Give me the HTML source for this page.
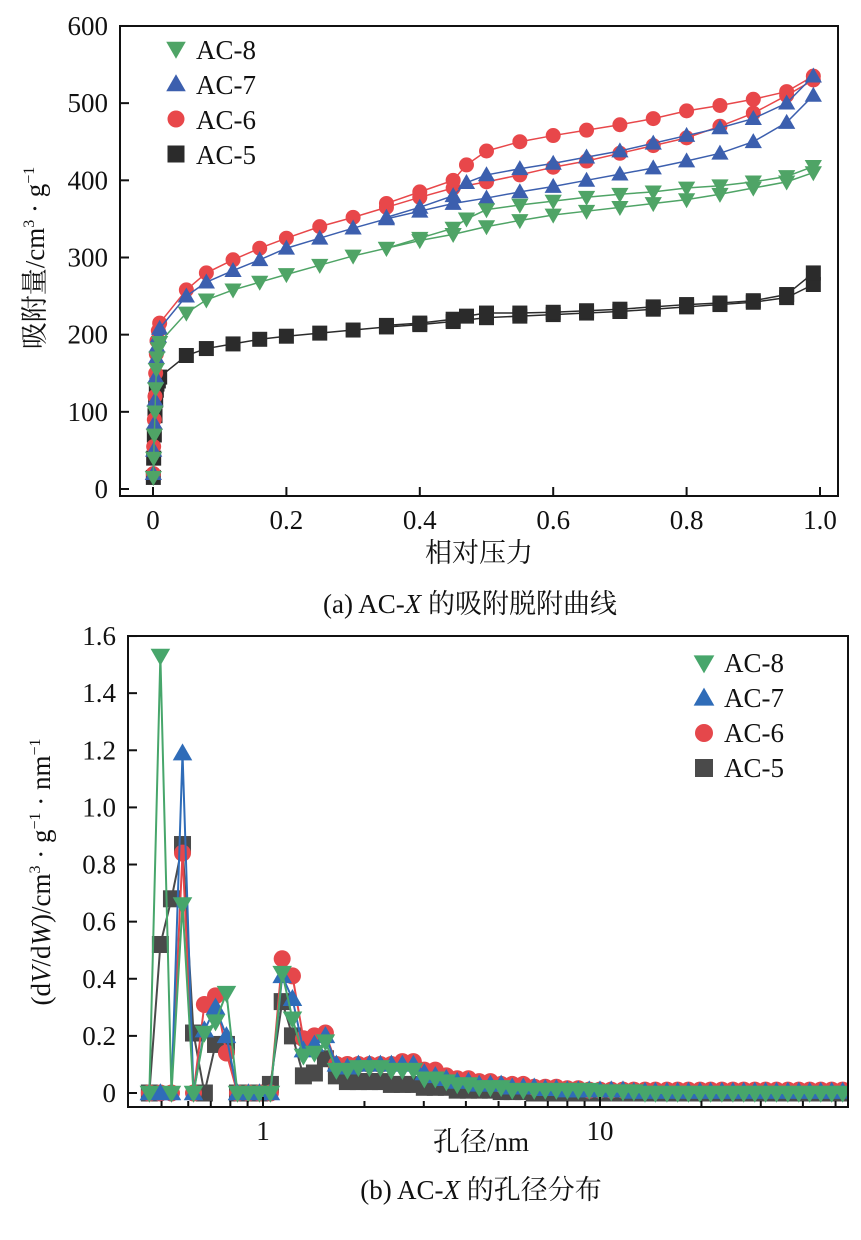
<!DOCTYPE html>
<html><head><meta charset="utf-8"><style>
html,body{margin:0;padding:0;background:#fff}
svg{display:block}
text{font-family:"Liberation Serif","Noto Serif CJK SC","Noto Sans CJK SC",serif;fill:#111}
</style></head><body>
<svg id="fig" width="861" height="1240" viewBox="0 0 861 1240" xmlns="http://www.w3.org/2000/svg">
<g id="top"></g>
<g id="bot"></g>
</svg>
<script>
// ===== Chart (a) data =====
const isoPLow = [0.0005,0.001,0.002,0.003,0.004,0.005,0.006,0.008];
const isoP = [0.01,0.05,0.08,0.12,0.16,0.2,0.25,0.3,0.35,0.4,0.45,0.5,0.55,0.6,0.65,0.7,0.75,0.8,0.85,0.9,0.95,0.99];
const isoPDes = [0.99,0.95,0.9,0.85,0.8,0.75,0.7,0.65,0.6,0.55,0.5,0.47,0.45,0.4,0.35];
const ac8Low = [15,40,70,100,130,155,170,182];
const ac8Ads = [190,228,245,258,268,278,290,302,312,322,330,340,348,355,360,365,370,375,382,390,398,410];
const ac8Des = [418,405,398,393,390,385,382,378,373,368,362,350,338,325,312];
const ac7Low = [20,50,85,115,145,170,185,198];
const ac7Ads = [208,250,268,283,297,312,325,338,350,360,370,377,385,392,400,408,416,425,435,450,475,510];
const ac7Des = [535,500,480,468,458,448,438,430,422,415,407,397,380,365,352];
const ac6Low = [20,55,90,120,150,175,192,205];
const ac6Ads = [215,258,280,297,312,325,340,352,365,378,390,398,407,417,425,435,445,455,470,487,510,530];
const ac6Des = [535,515,505,497,490,480,472,465,458,450,438,420,400,385,370];
const ac5Low = [15,40,70,95,115,128,136,140];
const ac5Ads = [145,173,182,188,194,198,202,206,210,213,217,222,224,226,228,230,233,236,239,242,248,265];
const ac5Des = [280,252,244,241,239,236,233,231,229,228,228,224,220,215,212];
const isoYTicks = [0,100,200,300,400,500,600];
const isoXTicks = [0,0.2,0.4,0.6,0.8,1.0];

// ===== Chart (b) data =====
const poreD = [0.460,0.496,0.535,0.577,0.622,0.670,0.723,0.779,0.840,0.905,0.976,1.052,1.14,1.223,1.318,1.421,1.532,1.651,1.780,1.919,2.069,2.230,2.404,2.591,2.794,3.011,3.246,3.50,3.77,4.07,4.38,4.73,5.09,5.49,5.92,6.38,6.88,7.42,8.00,8.62,9.29,10.0,10.8,11.7,12.6,13.6,14.6,15.8,17.0,18.3,19.8,21.3,23.0,24.8,26.7,28.8,31.0,33.4,36.1,38.9,41.9,45.2,48.7,52.5];
const pd8 = [0,1.53,0,0.66,0,0.21,0.25,0.35,0,0,0,0,0.42,0.26,0.13,0.14,0.18,0.08,0.08,0.09,0.09,0.09,0.08,0.08,0.08,0.05,0.05,0.04,0.03,0.03,0.02,0.02,0.02,0.01,0.01,0.01,0.01,0.01,0.01,0.01,0.01,0.005,0.005,0.005,0.005,0,0,0,0,0,0,0,0,0,0,0,0,0,0,0,0,0,0,0];
const pd7 = [0,0,0,1.19,0,0.22,0.30,0.20,0,0,0,0,0.41,0.33,0.15,0.17,0.20,0.10,0.09,0.10,0.10,0.10,0.10,0.10,0.10,0.07,0.06,0.05,0.04,0.04,0.03,0.03,0.03,0.02,0.02,0.02,0.015,0.015,0.01,0.01,0.01,0.01,0.01,0.01,0.005,0.005,0.005,0.005,0.005,0.005,0.005,0.005,0.005,0.005,0.005,0.005,0.005,0.005,0.005,0.005,0.005,0.005,0.005,0.005];
const pd6 = [0,0,0,0.84,0,0.31,0.34,0.14,0,0,0,0,0.47,0.41,0.19,0.20,0.21,0.10,0.10,0.10,0.10,0.10,0.10,0.11,0.11,0.08,0.08,0.06,0.05,0.05,0.04,0.04,0.03,0.03,0.03,0.02,0.02,0.02,0.015,0.015,0.01,0.01,0.01,0.01,0.01,0.01,0.01,0.01,0.01,0.01,0.01,0.01,0.01,0.01,0.01,0.01,0.01,0.01,0.01,0.01,0.01,0.01,0.01,0.01];
const pd5 = [0,0.52,0.68,0.87,0.21,0,0.17,0.17,0,0,0,0.03,0.32,0.20,0.06,0.07,0.12,0.06,0.04,0.04,0.04,0.04,0.03,0.03,0.03,0.02,0.02,0.02,0.01,0.01,0.01,0.01,0.005,0.005,0.005,0,0,0,0,0,0,0,0,0,0,0,0,0,0,0,0,0,0,0,0,0,0,0,0,0,0,0,0,0];
const poreYTicks = [0,0.2,0.4,0.6,0.8,1.0,1.2,1.4,1.6];
const poreYLabels = ["0","0.2","0.4","0.6","0.8","1.0","1.2","1.4","1.6"];

const NS="http://www.w3.org/2000/svg";
function mk(tag,attrs,parent,txt){const e=document.createElementNS(NS,tag);for(const k in attrs)e.setAttribute(k,attrs[k]);if(txt!==undefined)e.textContent=txt;parent.appendChild(e);return e;}

function marker(g,shape,x,y,r,col){
  let e;
  if(shape==='circle'){e=mk('circle',{cx:x,cy:y,r:r,fill:col},g);}
  else if(shape==='square'){e=mk('rect',{x:x-r,y:y-r,width:2*r,height:2*r,fill:col},g);}
  else if(shape==='up'){e=mk('polygon',{points:`${x},${y-r*1.15} ${x-r*1.15},${y+r*0.85} ${x+r*1.15},${y+r*0.85}`,fill:col},g);}
  else {e=mk('polygon',{points:`${x},${y+r*1.15} ${x-r*1.15},${y-r*0.85} ${x+r*1.15},${y-r*0.85}`,fill:col},g);}
  
  
  return e;
}

// ===== Chart (a) =====
(function(){
  const g=document.getElementById('top');
  const L=120,R=838,T=26,B=496;
  const X=p=>153+p*667, Y=v=>489-v*0.7717;
  const series=[
    {name:'ac-8',shape:'down',col:'#4fa466',low:ac8Low,ads:ac8Ads,des:ac8Des},
    {name:'ac-7',shape:'up',col:'#3c5fae',low:ac7Low,ads:ac7Ads,des:ac7Des},
    {name:'ac-6',shape:'circle',col:'#e8474a',low:ac6Low,ads:ac6Ads,des:ac6Des},
    {name:'ac-5',shape:'square',col:'#2b2b2b',low:ac5Low,ads:ac5Ads,des:ac5Des}
  ];
  series.slice().reverse().forEach(s=>{
    const sg=mk('g',{},g);
    
    
    const ps=isoPLow.concat(isoP), vs=s.low.concat(s.ads);
    const pts=ps.map((p,i)=>X(p)+','+Y(vs[i])).join(' ');
    mk('polyline',{points:pts,fill:'none',stroke:s.col,'stroke-width':1.5},sg);
    const pd=isoPDes.map((p,i)=>X(p)+','+Y(s.des[i])).join(' ');
    mk('polyline',{points:pd,fill:'none',stroke:s.col,'stroke-width':1.5},sg);
    ps.forEach((p,i)=>marker(sg,s.shape,X(p),Y(vs[i]),7.5,s.col));
    isoPDes.forEach((p,i)=>marker(sg,s.shape,X(p),Y(s.des[i]),7.5,s.col));
  });
  const fr=mk('rect',{x:L,y:T,width:R-L,height:B-T,fill:'none',stroke:'#111','stroke-width':2},g);
  
  isoYTicks.forEach(v=>{
    mk('line',{x1:L,x2:L+9,y1:Y(v),y2:Y(v),stroke:'#111','stroke-width':2},g);
    const t=mk('text',{x:L-12,y:Y(v)+9,'text-anchor':'end','font-size':27},g,String(v));
    
  });
  isoXTicks.forEach(p=>{
    mk('line',{x1:X(p),x2:X(p),y1:B,y2:B-9,stroke:'#111','stroke-width':2},g);
    const t=mk('text',{x:X(p),y:B+33,'text-anchor':'middle','font-size':27},g,p===0?'0':p.toFixed(1));
    
  });
  const yt=mk('text',{x:0,y:0,'text-anchor':'middle','font-size':27,transform:'translate(44,258) rotate(-90)'},g);
  yt.innerHTML='吸附量/cm<tspan font-size="16" dy="-10">3</tspan><tspan dy="10"> · g</tspan><tspan font-size="16" dy="-10">−1</tspan>';
  
  const xt=mk('text',{x:479,y:562,'text-anchor':'middle','font-size':27},g,'相对压力');
  
  const cap=mk('text',{x:470,y:613,'text-anchor':'middle','font-size':27},g);
  cap.innerHTML='(a) AC-<tspan font-style="italic">X</tspan> 的吸附脱附曲线';
  
  const lg=mk('g',{},g);
  series.forEach((s,i)=>{
    const y=50+i*35;
    const e=mk('g',{},lg);
    marker(e,s.shape,176,y-1,8.5,s.col);
    mk('text',{x:196,y:y+9,'font-size':27},e,s.name.toUpperCase());
  });
})();

// ===== Chart (b) =====
(function(){
  const g=document.getElementById('bot');
  const L=128,R=848,T=636,B=1107;
  const X=d=>263+Math.log10(d)*337, Y=v=>1093-v*285.6;
  const series=[
    {name:'ac-8',shape:'down',col:'#47a66b',vals:pd8},
    {name:'ac-7',shape:'up',col:'#2f6cb8',vals:pd7},
    {name:'ac-6',shape:'circle',col:'#e5474b',vals:pd6},
    {name:'ac-5',shape:'square',col:'#4a4a4a',vals:pd5}
  ];
  const cp=mk('clipPath',{id:'cb'},g);mk('rect',{x:L,y:T-20,width:R-L,height:B-T+20},cp);
  const pg=mk('g',{'clip-path':'url(#cb)'},g);
  series.slice().reverse().forEach(s=>{
    const sg=mk('g',{},pg);
    
    
    mk('polyline',{points:poreD.map((d,i)=>X(d)+','+Y(s.vals[i])).join(' '),fill:'none',stroke:s.col,'stroke-width':2},sg);
    poreD.forEach((d,i)=>marker(sg,s.shape,X(d),Y(s.vals[i]),8.5,s.col));
  });
  const fr=mk('rect',{x:L,y:T,width:R-L,height:B-T,fill:'none',stroke:'#111','stroke-width':2},g);
  
  poreYTicks.forEach((v,i)=>{
    mk('line',{x1:L,x2:L+9,y1:Y(v),y2:Y(v),stroke:'#111','stroke-width':2},g);
    const t=mk('text',{x:L-12,y:Y(v)+9,'text-anchor':'end','font-size':27},g,poreYLabels[i]);
    
  });
  [0.5,0.6,0.7,0.8,0.9,1,2,3,4,5,6,7,8,9,10,20,30,40,50].forEach(d=>{
    const major=(d===1||d===10);
    mk('line',{x1:X(d),x2:X(d),y1:B,y2:B-(major?10:6),stroke:'#111','stroke-width':2},g);
    if(major){const t=mk('text',{x:X(d),y:B+33,'text-anchor':'middle','font-size':27},g,String(d));
      }
  });
  const yt=mk('text',{x:0,y:0,'text-anchor':'middle','font-size':27,transform:'translate(50,872) rotate(-90)'},g);
  yt.innerHTML='(d<tspan font-style="italic">V</tspan>/d<tspan font-style="italic">W</tspan>)/cm<tspan font-size="16" dy="-10">3</tspan><tspan dy="10"> · g</tspan><tspan font-size="16" dy="-10">−1</tspan><tspan dy="10"> · nm</tspan><tspan font-size="16" dy="-10">−1</tspan>';
  
  const xt=mk('text',{x:481,y:1151,'text-anchor':'middle','font-size':27},g,'孔径/nm');
  
  const cap=mk('text',{x:481,y:1199,'text-anchor':'middle','font-size':27},g);
  cap.innerHTML='(b) AC-<tspan font-style="italic">X</tspan> 的孔径分布';
  
  const lg=mk('g',{},g);
  series.forEach((s,i)=>{
    const y=663+i*35;
    const e=mk('g',{},lg);
    marker(e,s.shape,704,y,9,s.col);
    mk('text',{x:724,y:y+9,'font-size':27},e,s.name.toUpperCase());
  });
})();
</script>
</body></html>
